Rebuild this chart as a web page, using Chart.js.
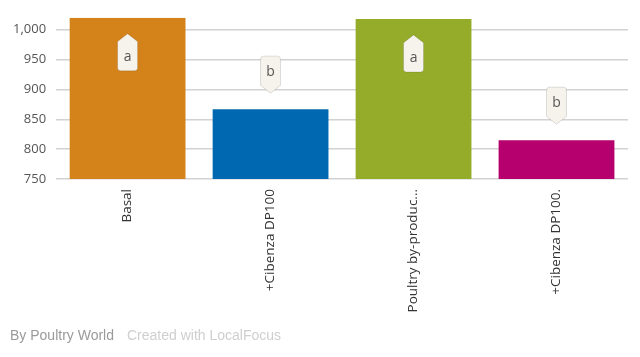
<!DOCTYPE html>
<html>
<head>
<meta charset="utf-8">
<script src="https://cdn.jsdelivr.net/npm/chart.js@4/dist/chart.umd.min.js"></script>
<style>
  html, body { margin: 0; padding: 0; background: #fff; }
  #wrap { position: relative; width: 640px; height: 357px; }
  #footer { position: absolute; left: 10px; top: 327px; font-family: "Liberation Sans Narrow", "Liberation Sans", sans-serif; font-size: 14px; white-space: nowrap; }
  #footer .by { color: #9a9a9a; }
  #footer .lf { color: #cfcfcf; margin-left: 13px; }
</style>
</head>
<body>
<div id="wrap">
  <canvas id="c" width="640" height="357"></canvas>
  <div id="footer"><span class="by">By Poultry World</span><span class="lf">Created with LocalFocus</span></div>
</div>
<script>
const categories = ["Basal", "+Cibenza DP100", "Poultry by-produc...", "+Cibenza DP100."];
const values = [1020, 867, 1018, 815];
const letters = ["a", "b", "a", "b"];
const barColors = ["#D4821A", "#0068B0", "#94AC2A", "#B5006E"];
const yMin = 750;
const yMax = 1020;
const yStep = 50;

const badgePlugin = {
  id: 'badges',
  afterDatasetsDraw(chart) {
    const ctx = chart.ctx;
    const meta = chart.getDatasetMeta(0);
    const area = chart.chartArea;
    meta.data.forEach((bar, i) => {
      const x = bar.x, top = bar.y;
      const w = 20, h = 30, tipH = 7, r = 3;
      const inside = (top - area.top) < 40;
      let bodyTop, bodyBot, tipY;
      if (inside) {
        tipY = top + 16;
        bodyTop = tipY + tipH;
        bodyBot = bodyTop + h;
      } else {
        tipY = top - 16;
        bodyBot = tipY - tipH;
        bodyTop = bodyBot - h;
      }
      const l = x - w / 2, rgt = x + w / 2;
      ctx.save();
      ctx.beginPath();
      if (inside) {
        ctx.moveTo(x, tipY);
        ctx.lineTo(rgt - 1, bodyTop);
        ctx.lineTo(rgt, bodyTop + 1);
        ctx.lineTo(rgt, bodyBot - r);
        ctx.quadraticCurveTo(rgt, bodyBot, rgt - r, bodyBot);
        ctx.lineTo(l + r, bodyBot);
        ctx.quadraticCurveTo(l, bodyBot, l, bodyBot - r);
        ctx.lineTo(l, bodyTop + 1);
        ctx.lineTo(l + 1, bodyTop);
        ctx.closePath();
      } else {
        ctx.moveTo(l + r, bodyTop);
        ctx.lineTo(rgt - r, bodyTop);
        ctx.quadraticCurveTo(rgt, bodyTop, rgt, bodyTop + r);
        ctx.lineTo(rgt, bodyBot - 1);
        ctx.lineTo(rgt - 1, bodyBot);
        ctx.lineTo(x, tipY);
        ctx.lineTo(l + 1, bodyBot);
        ctx.lineTo(l, bodyBot - 1);
        ctx.lineTo(l, bodyTop + r);
        ctx.quadraticCurveTo(l, bodyTop, l + r, bodyTop);
        ctx.closePath();
      }
      ctx.fillStyle = '#F6F3EC';
      ctx.fill();
      ctx.strokeStyle = 'rgba(0,0,0,0.12)';
      ctx.lineWidth = 1;
      ctx.stroke();
      ctx.fillStyle = '#555';
      ctx.font = '14px "Open Sans", sans-serif';
      ctx.textAlign = 'center';
      ctx.textBaseline = 'middle';
      ctx.fillText(letters[i], x, (bodyTop + bodyBot) / 2 + 1);
      ctx.restore();
    });
  }
};

new Chart(document.getElementById('c'), {
  type: 'bar',
  data: {
    labels: categories,
    datasets: [{
      data: values,
      backgroundColor: barColors,
      borderWidth: 0,
      categoryPercentage: 1,
      barPercentage: 0.81
    }]
  },
  options: {
    responsive: false,
    animation: false,
    layout: { padding: { top: 17, right: 12, left: 3, bottom: 38 } },
    plugins: { legend: { display: false }, tooltip: { enabled: false } },
    scales: {
      x: {
        grid: { display: false, drawTicks: false },
        border: { display: false },
        ticks: {
          color: '#333',
          font: { family: '"Open Sans", sans-serif', size: 13.5 },
          minRotation: 90, maxRotation: 90,
          padding: 10,
          autoSkip: false
        },
        afterFit(scale) { scale.height = 140; }
      },
      y: {
        min: yMin,
        max: yMax,
        grid: { color: '#D2D2D2', lineWidth: 1.5, drawTicks: false },
        border: { display: false },
        ticks: {
          stepSize: yStep,
          includeBounds: false,
          color: '#555',
          font: { family: '"Open Sans", sans-serif', size: 13 },
          padding: 10,
          callback: v => v.toLocaleString('en-US')
        },
        afterBuildTicks(scale) {
          scale.ticks = scale.ticks.filter(t => t.value % yStep === 0);
        }
      }
    }
  },
  plugins: [badgePlugin]
});
</script>
</body>
</html>
